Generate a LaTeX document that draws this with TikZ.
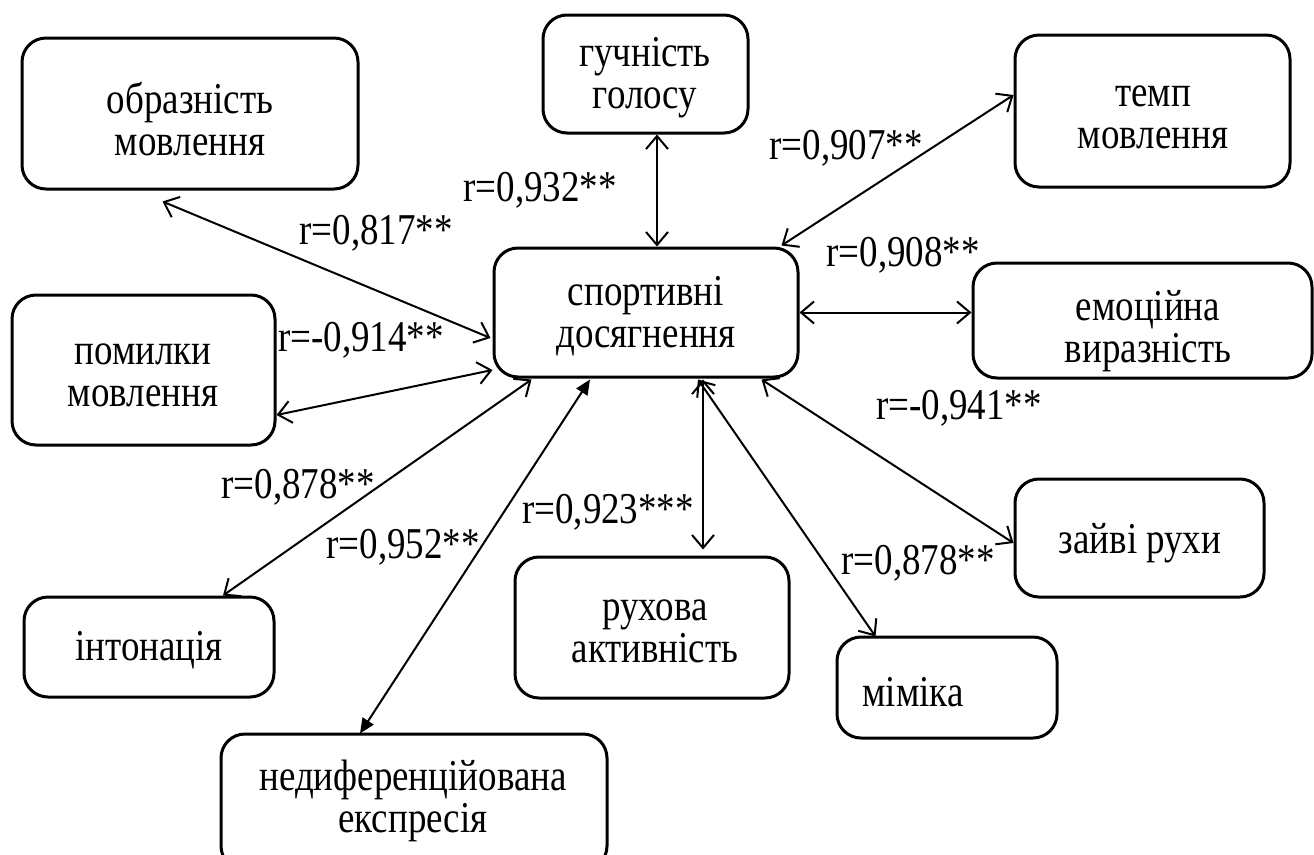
\documentclass[tikz,border=0pt]{standalone}
\usepackage{fontspec}
\setmainfont{Liberation Serif}[FakeStretch=0.84]
\usetikzlibrary{arrows.meta}
\begin{document}
\begin{tikzpicture}[x=1pt,y=-1pt,
  box/.style={draw, line width=3pt, rounded corners=24pt, inner sep=0pt},
  txt/.style={font=\fontsize{44}{42}\selectfont, align=center, inner sep=0pt},
  lbl/.style={font=\fontsize{44}{42}\selectfont, inner sep=0pt},
  dbl/.style={line width=2pt, {Straight Barb[length=13pt,width=22pt]}-{Straight Barb[length=13pt,width=22pt]}},
  dblf/.style={line width=2pt, {Triangle[length=15pt,width=13pt]}-{Triangle[length=15pt,width=13pt]}}]
\useasboundingbox (0,0) rectangle (1314,854);
\clip (0,0) rectangle (1314,854);
% boxes
\node[box, minimum width=336pt, minimum height=151pt] (obr) at (190,113.5) {};
\node[box, minimum width=205pt, minimum height=118pt] (guch) at (645.5,74) {};
\node[box, minimum width=275pt, minimum height=152pt] (temp) at (1152.5,111) {};
\node[box, minimum width=304pt, minimum height=129pt] (cen) at (646,312.5) {};
\node[box, minimum width=339pt, minimum height=115pt] (emo) at (1142.5,320.5) {};
\node[box, minimum width=263pt, minimum height=150pt] (pom) at (143.5,370) {};
\node[box, minimum width=250pt, minimum height=100pt] (into) at (149,647) {};
\node[box, minimum width=386pt, minimum height=136pt] (ned) at (414,802) {};
\node[box, minimum width=274pt, minimum height=141pt] (ruh) at (652,627.5) {};
\node[box, minimum width=220pt, minimum height=101pt] (mim) at (947,687.5) {};
\node[box, minimum width=249pt, minimum height=118pt] (zai) at (1139.5,538) {};
% texts
\node[txt] (obrt) at (190,119) {образність\\мовлення};
\node[txt] (gucht) at (645,78) {гучність\\голосу};
\node[txt] (tempt) at (1153,117) {темп\\мовлення};
\node[txt] (cent) at (646,316) {спортивні\\досягнення};
\node[txt] (emot) at (1148,331) {емоційна\\виразність};
\node[txt] (pomt) at (143,375) {помилки\\мовлення};
\node[txt] (intot) at (149,650) {інтонація};
\node[txt] (nedt) at (413,801) {недиференційована\\експресія};
\node[txt] (ruht) at (655,631) {рухова\\активність};
\node[txt] (mimt) at (913,692) {міміка};
\node[txt] (zait) at (1140,543) {зайві рухи};
% connectors
\draw[dbl] ([shift={(142,11)}]obr.south west) -- ([shift={(-2,25.5)}]cen.west);
\draw[dbl] ([shift={(11.5,0)}]guch.south) -- ([shift={(11,0)}]cen.north);
\draw[dbl] ([shift={(0,-16)}]temp.west) -- ([shift={(-18,-1)}]cen.north east);
\draw[dbl] (cen.east) -- (cen.east -| emo.west);
\draw[dbl] ([shift={(0,45)}]pom.east) -- ([shift={(0,57.5)}]cen.west);
\draw[dbl] ([shift={(74,0)}]into.north) -- ([shift={(39,1)}]cen.south west);
\draw[dblf] ([shift={(-54,1)}]ned.north) -- ([shift={(-56,1)}]cen.south);
\draw[dbl] ([shift={(57,1)}]cen.south) -- ([shift={(51,-6)}]ruh.north);
\draw[dbl] ([shift={(52,1)}]cen.south) -- ([shift={(40,1)}]mim.north west);
\draw[dbl] ([shift={(-38,1)}]cen.south east) -- ([shift={(0,5)}]zai.west);
% labels
\node[lbl] (l1) at (540,190) {r=0,932**};
\node[lbl] (l2) at (376,233) {r=0,817**};
\node[lbl] (l3) at (361,340) {r=-0,914**};
\node[lbl] (l4) at (846,148) {r=0,907**};
\node[lbl] (l5) at (903,255) {r=0,908**};
\node[lbl] (l6) at (959,408) {r=-0,941**};
\node[lbl] (l7) at (298,487) {r=0,878**};
\node[lbl] (l8) at (403,547) {r=0,952**};
\node[lbl] (l9) at (608,512) {r=0,923***};
\node[lbl] (l10) at (918,563) {r=0,878**};
\end{tikzpicture}
\end{document}
